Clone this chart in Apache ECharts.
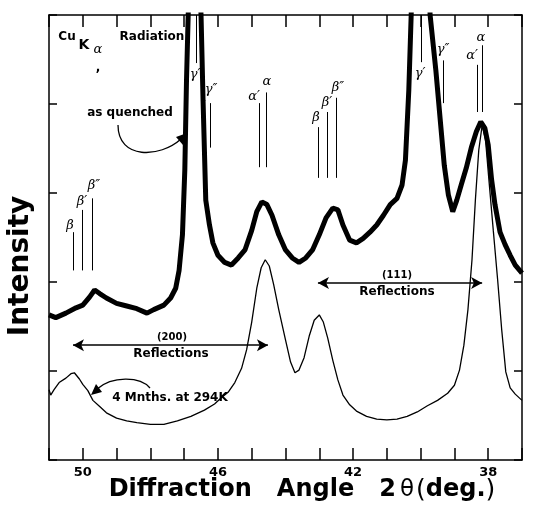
<!DOCTYPE html>
<html>
<head>
<meta charset="utf-8">
<script src="https://cdn.jsdelivr.net/npm/echarts@6/dist/echarts.min.js"></script>
<style>
  html, body { margin: 0; padding: 0; background: #fff; }
  #chart { width: 537px; height: 509px; }
</style>
</head>
<body>
<div id="chart"></div>
<script>
// 2θ (deg) and intensity (arb. units)
const quenchedAngle = [51.0, 50.8, 50.5, 50.2, 50.0, 49.8, 49.65, 49.5, 49.3, 49.0, 48.7, 48.4, 48.1, 47.9, 47.6, 47.4, 47.25, 47.15, 47.05, 46.98, 46.93, 46.88, 46.75, 46.6, 46.5, 46.44, 46.36, 46.25, 46.15, 46.0, 45.8, 45.6, 45.4, 45.2, 45.0, 44.85, 44.7, 44.55, 44.4, 44.2, 44.0, 43.8, 43.6, 43.4, 43.2, 43.0, 42.8, 42.6, 42.45, 42.3, 42.1, 41.9, 41.7, 41.5, 41.3, 41.1, 40.9, 40.7, 40.55, 40.45, 40.35, 40.28, 40.1, 39.9, 39.72, 39.55, 39.42, 39.3, 39.18, 39.05, 38.93, 38.8, 38.65, 38.5, 38.35, 38.22, 38.1, 38.0, 37.9, 37.8, 37.65, 37.5, 37.35, 37.2, 37.0]
const quenchedInt = [1.63, 1.60, 1.65, 1.71, 1.74, 1.83, 1.91, 1.87, 1.82, 1.76, 1.73, 1.70, 1.65, 1.69, 1.74, 1.82, 1.93, 2.13, 2.53, 3.26, 4.27, 5.0, 6.8, 6.0, 5.0, 4.04, 2.92, 2.64, 2.44, 2.30, 2.22, 2.19, 2.27, 2.36, 2.58, 2.79, 2.90, 2.87, 2.75, 2.53, 2.36, 2.27, 2.22, 2.27, 2.36, 2.53, 2.72, 2.83, 2.81, 2.64, 2.47, 2.44, 2.49, 2.56, 2.64, 2.75, 2.87, 2.94, 3.09, 3.37, 4.16, 5.0, 7.5, 7.5, 5.0, 4.38, 3.82, 3.31, 2.98, 2.79, 2.92, 3.09, 3.28, 3.51, 3.69, 3.80, 3.73, 3.54, 3.15, 2.87, 2.56, 2.42, 2.30, 2.19, 2.10]

const agedAngle = [51.0, 50.95, 50.85, 50.7, 50.5, 50.35, 50.25, 50.1, 50.0, 49.85, 49.7, 49.5, 49.3, 49.0, 48.7, 48.4, 48.0, 47.6, 47.2, 46.8, 46.4, 46.1, 45.9, 45.7, 45.5, 45.3, 45.15, 45.0, 44.85, 44.72, 44.6, 44.48, 44.35, 44.2, 44.0, 43.85, 43.72, 43.6, 43.45, 43.3, 43.15, 43.0, 42.88, 42.75, 42.6, 42.45, 42.3, 42.1, 41.9, 41.6, 41.3, 41.0, 40.7, 40.4, 40.1, 39.8, 39.5, 39.2, 39.0, 38.85, 38.72, 38.6, 38.48, 38.38, 38.28, 38.18, 38.08, 37.98, 37.85, 37.72, 37.6, 37.48, 37.35, 37.2, 37.0]
const agedInt = [0.79, 0.73, 0.79, 0.87, 0.92, 0.97, 0.98, 0.91, 0.85, 0.78, 0.67, 0.60, 0.53, 0.47, 0.44, 0.42, 0.40, 0.40, 0.44, 0.49, 0.56, 0.63, 0.70, 0.76, 0.87, 1.03, 1.24, 1.55, 1.93, 2.16, 2.25, 2.18, 1.97, 1.69, 1.35, 1.10, 0.98, 1.01, 1.15, 1.39, 1.57, 1.63, 1.55, 1.37, 1.12, 0.90, 0.73, 0.62, 0.55, 0.49, 0.46, 0.45, 0.46, 0.49, 0.54, 0.61, 0.67, 0.75, 0.84, 1.01, 1.29, 1.69, 2.25, 2.92, 3.48, 3.76, 3.60, 3.15, 2.58, 2.02, 1.46, 0.99, 0.81, 0.74, 0.67]

// peak marker lines: 2θ, top and bottom (intensity units)
const peakAngle = [50.29, 50.02, 49.73, 46.65, 46.23, 44.78, 44.58, 43.04, 42.77, 42.51, 39.99, 39.34, 38.33, 38.18]
const peakTop = [2.56, 2.81, 2.94, 5.0, 4.01, 4.01, 4.13, 3.74, 3.91, 4.07, 5.0, 4.49, 4.44, 4.66]
const peakBottom = [2.13, 2.13, 2.13, 4.46, 3.51, 3.29, 3.29, 3.17, 3.17, 3.17, 4.47, 4.01, 3.91, 3.91]

// reflection ranges (double arrows)
const reflFrom = [50.29, 43.04]
const reflTo = [44.52, 38.18]
const reflLevel = [1.29, 1.99]

const tickLabels = [50, 46, 42, 38]

const zip = (a, b) => a.map((v, i) => [v, b[i]])

const chart = echarts.init(document.getElementById('chart'), null, { renderer: 'canvas' })

const markLines = peakAngle.map((x, i) => [
  { coord: [x, peakTop[i]] },
  { coord: [x, peakBottom[i]] }
])
const arrowLines = reflFrom.map((x, i) => [
  { coord: [x, reflLevel[i]], symbol: 'arrow' },
  { coord: [reflTo[i], reflLevel[i]], symbol: 'arrow' }
])

const boldFont = 'bold 12px "DejaVu Sans", sans-serif'
const greek = 'italic 13px "DejaVu Serif", serif'

function txt(text, x, y, font, extra) {
  return Object.assign({
    type: 'text', x: x, y: y, silent: true,
    style: { text: text, font: font, fill: '#000', textAlign: 'center', textVerticalAlign: 'middle', verticalAlign: 'middle' }
  }, extra || {})
}

const xAxisBase = {
  type: 'value',
  min: 37,
  max: 51,
  interval: 1,
  inverse: true,
  splitLine: { show: false },
  axisLine: { show: true, onZero: false, lineStyle: { color: '#000', width: 1.5 } },
  axisTick: { show: true, inside: true, length: 12, lineStyle: { color: '#000', width: 1.5 } }
}
const yAxisBase = {
  type: 'value',
  min: 0,
  max: 5,
  interval: 1,
  splitLine: { show: false },
  axisLabel: { show: false },
  axisLine: { show: true, onZero: false, lineStyle: { color: '#000', width: 1.5 } },
  axisTick: { show: true, inside: true, length: 8, lineStyle: { color: '#000', width: 1.5 } }
}

const option = {
  animation: false,
  backgroundColor: '#fff',
  grid: { left: 49, right: 15, top: 15, bottom: 49 },
  xAxis: [
    Object.assign({}, xAxisBase, {
      position: 'bottom',
      axisLabel: {
        color: '#000', fontWeight: 'bold', fontSize: 13, margin: 6,
        fontFamily: 'DejaVu Sans',
        formatter: v => tickLabels.includes(v) ? String(v) : ''
      }
    }),
    Object.assign({}, xAxisBase, { position: 'top', axisLabel: { show: false } })
  ],
  yAxis: [
    Object.assign({}, yAxisBase, { position: 'left' }),
    Object.assign({}, yAxisBase, { position: 'right' })
  ],
  series: [
    {
      name: 'as quenched',
      type: 'line',
      data: zip(quenchedAngle, quenchedInt),
      showSymbol: false,
      clip: true,
      lineStyle: { color: '#000', width: 5 },
      markLine: {
        silent: true,
        symbol: 'none',
        label: { show: false },
        lineStyle: { color: '#000', width: 1, type: 'solid' },
        data: markLines
      }
    },
    {
      name: '4 Mnths. at 294K',
      type: 'line',
      data: zip(agedAngle, agedInt),
      showSymbol: false,
      clip: true,
      lineStyle: { color: '#000', width: 1.3 },
      markLine: {
        silent: true,
        symbolSize: [9, 11],
        label: { show: false },
        lineStyle: { color: '#000', width: 1.6, type: 'solid' },
        data: arrowLines
      }
    }
  ],
  graphic: [
    // radiation label
    txt('Cu', 67, 37, boldFont),
    txt('K', 84, 45, 'bold 14px "DejaVu Sans", sans-serif'),
    txt('α', 98, 50, greek),
    txt(',', 98, 68, boldFont),
    txt('Radiation', 152, 37, boldFont),
    txt('as quenched', 130, 113, boldFont),
    txt('4 Mnths. at 294K', 170, 398, boldFont),
    txt('(200)', 172, 337, 'bold 10px "DejaVu Sans", sans-serif'),
    txt('Reflections', 171, 354, boldFont),
    txt('(111)', 397, 275, 'bold 10px "DejaVu Sans", sans-serif'),
    txt('Reflections', 397, 292, boldFont),
    // peak labels
    txt('β', 70, 226, greek),
    txt('β′', 82, 202, greek),
    txt('β″', 94, 186, greek),
    txt('γ′', 195, 75, greek),
    txt('γ″', 211, 90, greek),
    txt('α′', 254, 97, greek),
    txt('α', 267, 82, greek),
    txt('β', 316, 118, greek),
    txt('β′', 327, 103, greek),
    txt('β″', 338, 88, greek),
    txt('γ′', 420, 74, greek),
    txt('γ″', 443, 50, greek),
    txt('α′', 472, 56, greek),
    txt('α', 481, 38, greek),
    // curved arrows
    {
      type: 'bezierCurve', silent: true,
      shape: { x1: 118, y1: 125, cpx1: 118, cpy1: 160, cpx2: 160, cpy2: 158, x2: 181, y2: 139 },
      style: { stroke: '#000', lineWidth: 1.3, fill: null }
    },
    {
      type: 'polygon', silent: true,
      shape: { points: [[187, 133], [176, 137], [183, 145]] },
      style: { fill: '#000' }
    },
    {
      type: 'bezierCurve', silent: true,
      shape: { x1: 150, y1: 388, cpx1: 140, cpy1: 376, cpx2: 112, cpy2: 376, x2: 97, y2: 389 },
      style: { stroke: '#000', lineWidth: 1.3, fill: null }
    },
    {
      type: 'polygon', silent: true,
      shape: { points: [[91, 395], [96, 384], [102, 392]] },
      style: { fill: '#000' }
    },
    // axis titles
    {
      type: 'text', silent: true, x: 302, y: 490,
      style: {
        text: '{b|Diffraction   Angle   2}{t|θ}{p|(}{b|deg.}{p|)}',
        textAlign: 'center', textVerticalAlign: 'middle', verticalAlign: 'middle',
        rich: {
          b: { fontFamily: 'DejaVu Sans', fontWeight: 'bold', fontSize: 24, fill: '#000' },
          t: { fontFamily: 'DejaVu Sans', fontWeight: 'normal', fontSize: 23, fill: '#000', padding: [0, 2, 0, 4] },
          p: { fontFamily: 'DejaVu Sans', fontWeight: 'normal', fontSize: 25, fill: '#000' }
        }
      }
    },
    {
      type: 'text', silent: true, x: 21, y: 266, rotation: Math.PI / 2,
      style: {
        text: 'Intensity', font: 'bold 28px "DejaVu Sans", sans-serif', fill: '#000',
        textAlign: 'center', textVerticalAlign: 'middle', verticalAlign: 'middle'
      }
    }
  ]
}

chart.setOption(option)
</script>
</body>
</html>
